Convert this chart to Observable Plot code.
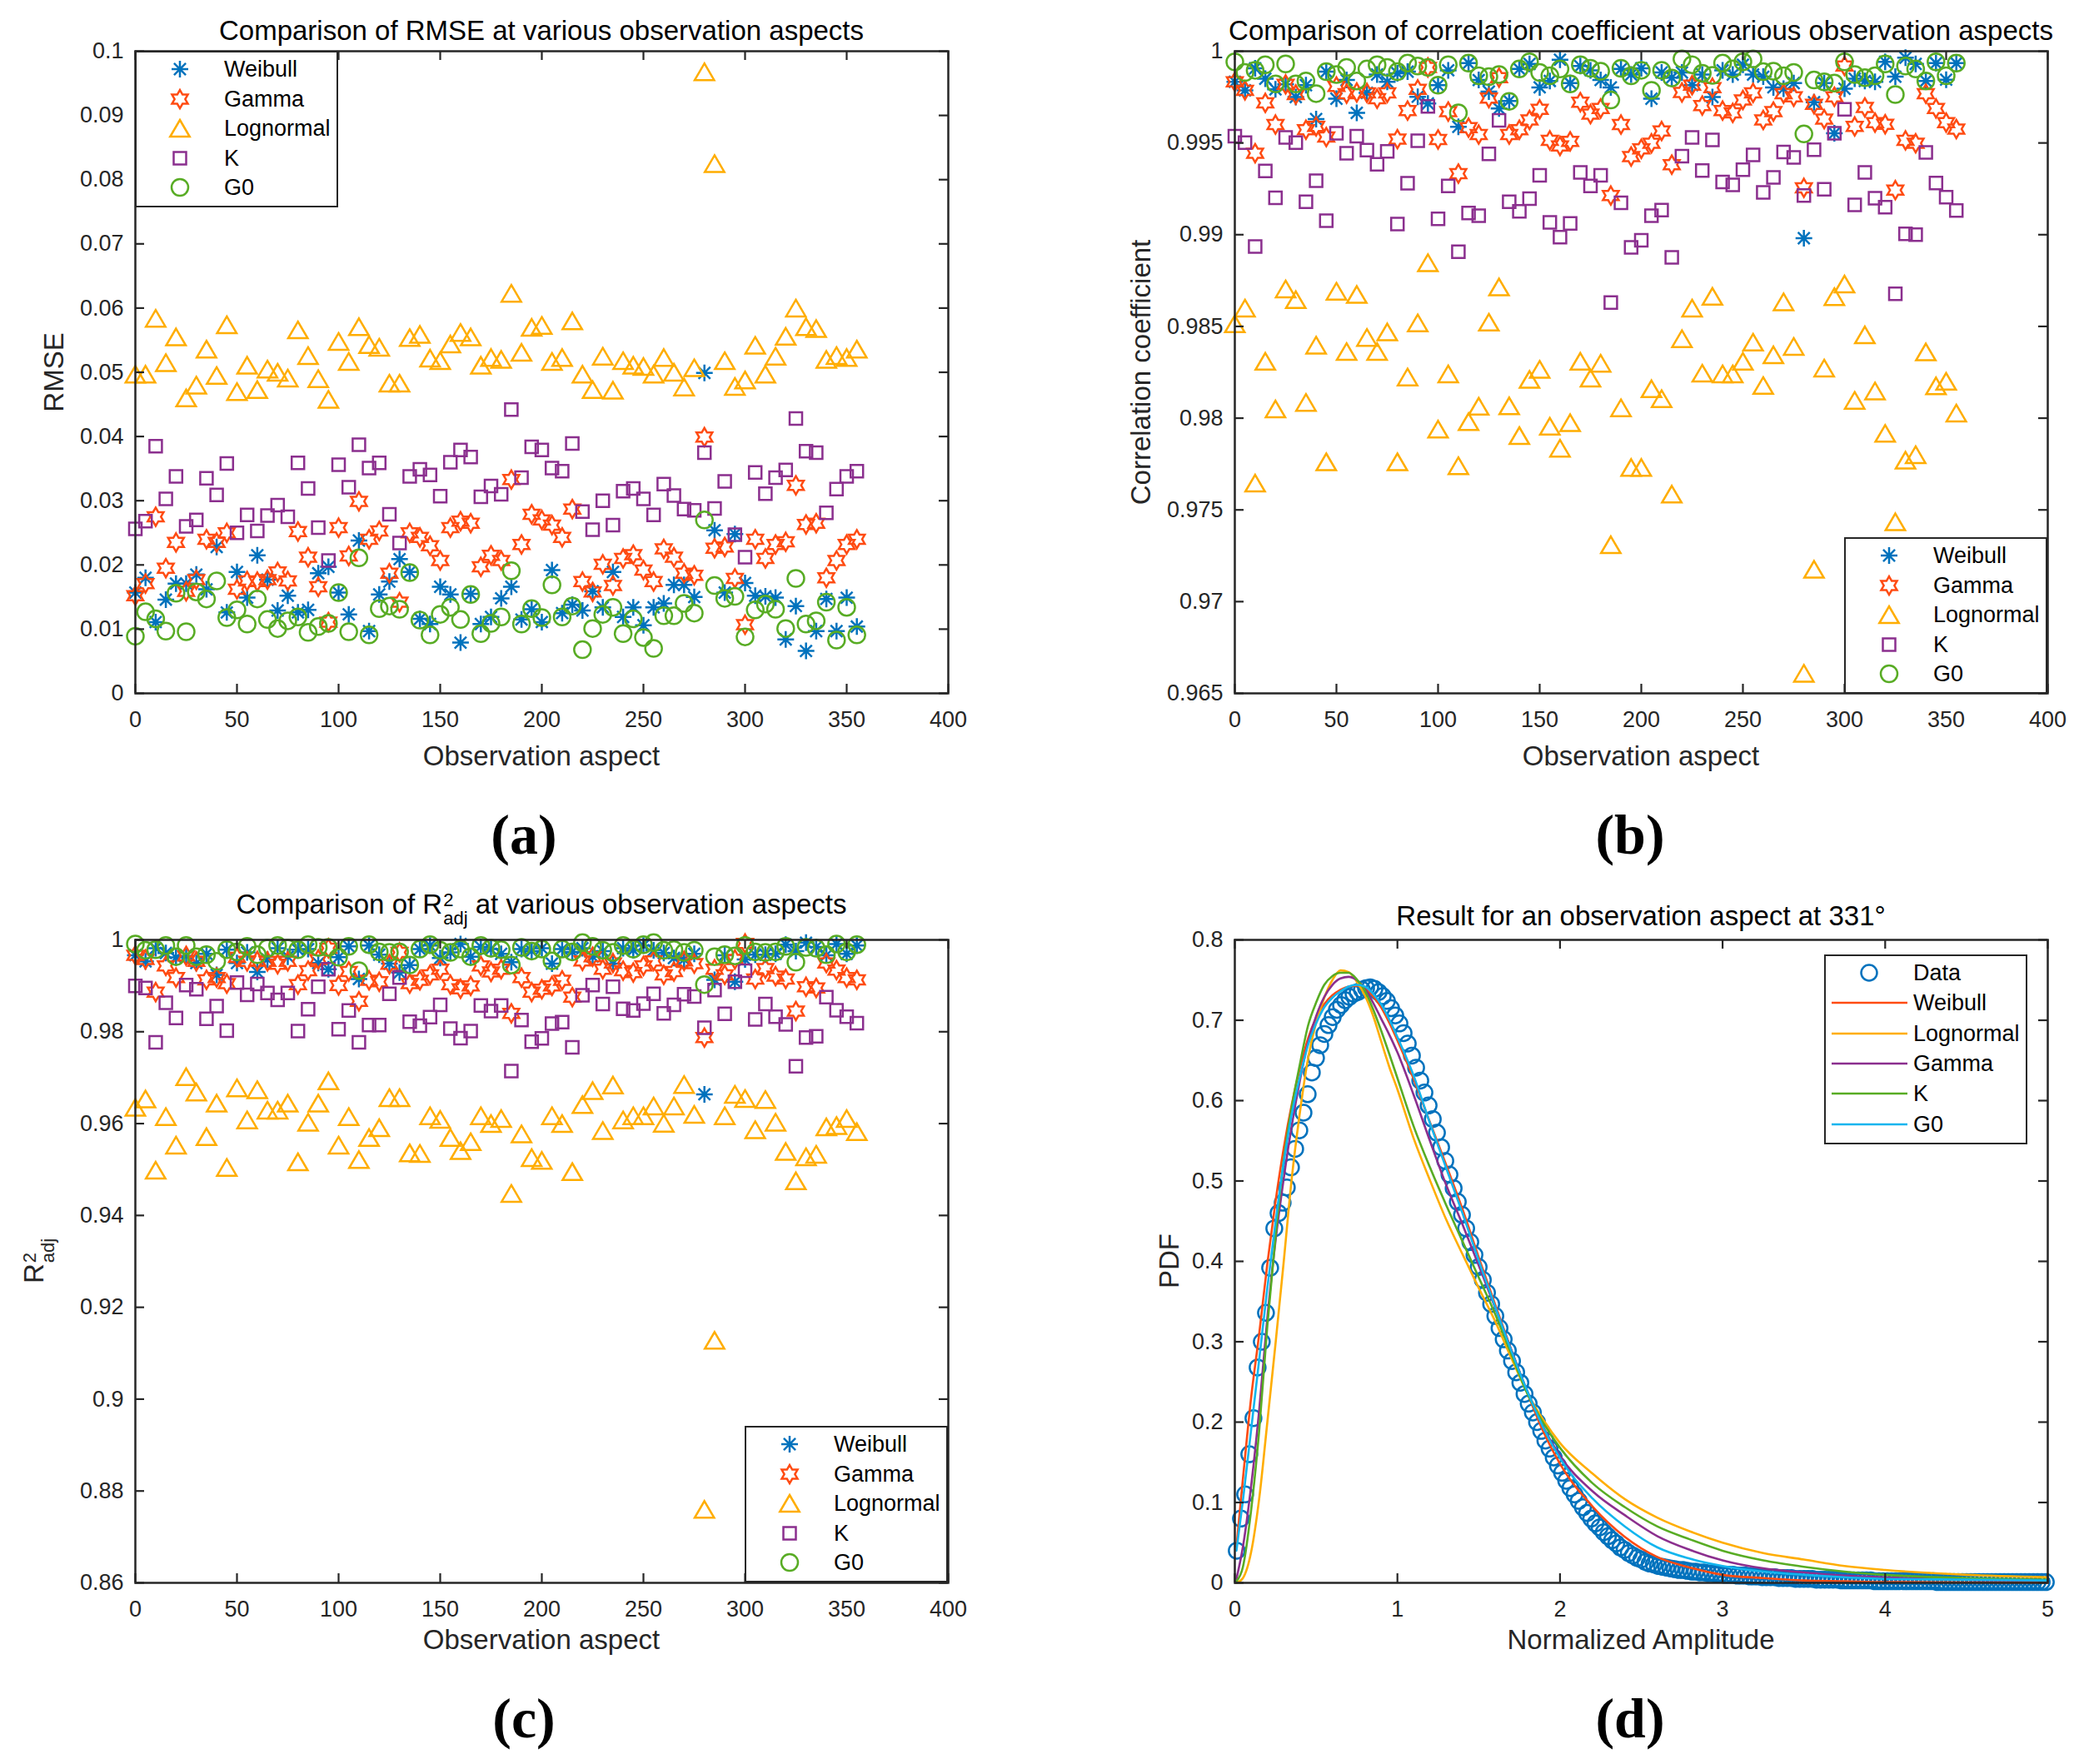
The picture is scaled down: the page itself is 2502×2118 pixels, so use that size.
<!DOCTYPE html>
<html><head><meta charset="utf-8">
<script src="https://cdn.jsdelivr.net/npm/d3@7"></script>
<script src="https://cdn.jsdelivr.net/npm/@observablehq/plot@0.6"></script>
<style>
body{margin:0;background:#fff;}
#page{position:relative;width:2502px;height:2118px;background:#fff;font-family:"Liberation Sans",Arial,Helvetica,sans-serif;overflow:hidden;}
.panel{position:absolute;}
.txt{position:absolute;white-space:nowrap;transform:translate(-50%,-50%);color:#000;line-height:1;}
.title{font-size:33px;}
.axlab{font-size:33px;color:#262626;}
.ylab{transform:translate(-50%,-50%) rotate(-90deg);}
.tag{font-family:"Liberation Serif","Times New Roman",serif;font-weight:bold;font-size:68px;}
.supsub{display:inline-block;vertical-align:-13px;font-size:22px;line-height:1;text-align:left;margin-left:1px;}
.supsub span{display:block;}
.legend{position:absolute;background:#fff;border:2.5px solid #262626;box-sizing:border-box;}
.legend svg{position:absolute;overflow:visible;}
.legend span{position:absolute;font-size:27px;line-height:1;transform:translateY(-50%);white-space:nowrap;color:#000;}
</style></head><body><div id="page"></div>
<script>
// ---------------- data ----------------
const aspects = [0,5,10,15,20,25,30,35,40,45,50,55,60,65,70,75,80,85,90,95,100,105,110,115,120,125,130,135,140,145,150,155,160,165,170,175,180,185,190,195,200,205,210,215,220,225,230,235,240,245,250,255,260,265,270,275,280,285,290,295,300,305,310,315,320,325,330,335,340,345,350,355];
const seriesNames = ["Weibull","Gamma","Lognormal","K","G0"];

// (a) RMSE
const rmseWeibull = [0.0157,0.018,0.0111,0.0146,0.0171,0.0171,0.0185,0.0162,0.0228,0.0126,0.0189,0.0149,0.0215,0.0177,0.0129,0.0152,0.0126,0.013,0.0187,0.0197,0.0157,0.0123,0.0238,0.0097,0.0154,0.0174,0.0209,0.0189,0.0116,0.0108,0.0166,0.0154,0.0079,0.0155,0.0108,0.0119,0.0148,0.0166,0.0115,0.0131,0.0111,0.0192,0.0125,0.0138,0.0129,0.0159,0.0134,0.0189,0.0119,0.0134,0.0106,0.0134,0.014,0.0169,0.0169,0.015,0.0499,0.0254,0.0157,0.0248,0.0172,0.0152,0.0151,0.0149,0.0084,0.0136,0.0066,0.0097,0.0147,0.0097,0.0149,0.0104];
const rmseGamma = [0.0152,0.0171,0.0275,0.0195,0.0235,0.0159,0.0177,0.024,0.0235,0.025,0.0162,0.0175,0.0174,0.0177,0.0189,0.0175,0.0252,0.0212,0.0166,0.0111,0.0258,0.0214,0.0299,0.024,0.0253,0.0187,0.0142,0.025,0.0243,0.023,0.0207,0.0258,0.0268,0.0265,0.0197,0.0215,0.0207,0.0333,0.0232,0.0279,0.027,0.0262,0.0243,0.0287,0.0174,0.0158,0.0201,0.0168,0.021,0.0216,0.0192,0.0174,0.0225,0.0212,0.0187,0.0184,0.0399,0.0226,0.0228,0.0179,0.0107,0.024,0.021,0.0232,0.0236,0.0324,0.0263,0.0265,0.018,0.0207,0.0232,0.024];
const rmseLognormal = [0.0497,0.0497,0.0584,0.0515,0.0555,0.046,0.048,0.0536,0.0495,0.0574,0.047,0.0511,0.0473,0.0505,0.05,0.0491,0.0566,0.0526,0.049,0.0458,0.0548,0.0517,0.0571,0.0543,0.0539,0.0483,0.0483,0.0554,0.0559,0.0522,0.0518,0.0544,0.0562,0.0555,0.0511,0.0523,0.052,0.0623,0.0531,0.057,0.0573,0.0517,0.0523,0.058,0.0497,0.0473,0.0525,0.0472,0.0518,0.0511,0.0509,0.0497,0.0523,0.05,0.0477,0.0507,0.0968,0.0825,0.0518,0.0478,0.0488,0.0542,0.0497,0.0525,0.0556,0.06,0.0571,0.0568,0.052,0.0526,0.0523,0.0536];
const rmseK = [0.0256,0.0268,0.0385,0.0303,0.0338,0.026,0.027,0.0335,0.0309,0.0358,0.025,0.0278,0.0253,0.0277,0.0293,0.0275,0.0359,0.0319,0.0258,0.0207,0.0356,0.0321,0.0387,0.0351,0.0359,0.0279,0.0234,0.0338,0.0349,0.034,0.0307,0.036,0.0379,0.0368,0.0306,0.0323,0.031,0.0442,0.0336,0.0384,0.0379,0.0351,0.0346,0.0389,0.0283,0.0255,0.03,0.0262,0.0315,0.0319,0.0303,0.0278,0.0326,0.0308,0.0287,0.0285,0.0375,0.0288,0.033,0.0247,0.0212,0.0344,0.0311,0.0336,0.0348,0.0428,0.0377,0.0375,0.0281,0.0318,0.0338,0.0346];
const rmseG0 = [0.0089,0.0127,0.0116,0.0097,0.0156,0.0096,0.0158,0.0147,0.0175,0.0118,0.013,0.0108,0.0147,0.0115,0.0101,0.0113,0.0119,0.0095,0.0104,0.0109,0.0157,0.0096,0.0211,0.0091,0.0132,0.0136,0.0131,0.0188,0.0114,0.0091,0.0123,0.0134,0.0115,0.0154,0.0093,0.0109,0.0119,0.0191,0.0108,0.0132,0.0118,0.0169,0.0119,0.0136,0.0068,0.0101,0.0123,0.0134,0.0093,0.0116,0.0087,0.007,0.0121,0.0121,0.014,0.0125,0.027,0.0168,0.0148,0.0151,0.0088,0.013,0.0139,0.0131,0.0101,0.0179,0.0108,0.0113,0.0142,0.0083,0.0134,0.0091];

// (b) correlation coefficient
const corrWeibull = [0.99833,0.99787,0.99907,0.9985,0.99792,0.99819,0.9975,0.99815,0.9963,0.99889,0.99741,0.99843,0.99664,0.99773,0.99873,0.99833,0.9988,0.99889,0.99752,0.99715,0.99815,0.99896,0.99588,0.99935,0.99843,0.9978,0.99688,0.99729,0.99903,0.99931,0.99803,0.99838,0.99954,0.99826,0.99919,0.99896,0.99843,0.99803,0.99903,0.99873,0.99907,0.99741,0.99884,0.99856,0.99884,0.99815,0.99873,0.9975,0.99896,0.99873,0.99926,0.99873,0.99861,0.99803,0.99796,0.99826,0.98981,0.99722,0.99826,0.99553,0.99796,0.9985,0.99838,0.99833,0.99942,0.99861,0.99965,0.99931,0.99838,0.99935,0.99845,0.99935];
const corrGamma = [0.99833,0.99787,0.99444,0.99718,0.996,0.99819,0.99764,0.99572,0.9959,0.99532,0.99808,0.99769,0.99775,0.99773,0.99741,0.99773,0.99521,0.99676,0.99792,0.99912,0.99519,0.99671,0.99333,0.99583,0.99546,0.99745,0.99856,0.99546,0.99572,0.99625,0.99683,0.99514,0.99484,0.99509,0.99722,0.99657,0.99688,0.99213,0.996,0.99426,0.99468,0.99498,0.99565,0.99382,0.99775,0.99815,0.99704,0.99801,0.99676,0.99664,0.99734,0.99773,0.99625,0.99671,0.99769,0.99752,0.99255,0.99711,0.9963,0.99752,0.99919,0.9959,0.99694,0.99611,0.99602,0.99243,0.99514,0.99498,0.99769,0.99688,0.99611,0.99576];
const corrLognormal = [0.98514,0.986,0.97646,0.9831,0.9805,0.98704,0.98646,0.98086,0.98398,0.97762,0.98692,0.98363,0.98674,0.9844,0.98363,0.9847,0.97762,0.98224,0.98519,0.98847,0.9794,0.98241,0.97741,0.97981,0.98065,0.98523,0.98715,0.98067,0.97905,0.98211,0.98266,0.97956,0.97836,0.97975,0.9831,0.98218,0.98299,0.9731,0.98056,0.97731,0.97731,0.9816,0.98106,0.97586,0.98433,0.986,0.98245,0.98664,0.98241,0.98241,0.9831,0.98414,0.98178,0.98345,0.98634,0.98391,0.96609,0.97176,0.98273,0.98662,0.98731,0.98097,0.98454,0.98148,0.97917,0.97435,0.97771,0.97801,0.98361,0.98176,0.98201,0.98028];
const corrK = [0.99537,0.99502,0.98935,0.99347,0.99201,0.9953,0.99502,0.9918,0.99294,0.99076,0.99553,0.99444,0.99537,0.99461,0.99384,0.99454,0.99058,0.9928,0.99512,0.99699,0.99086,0.99266,0.98907,0.99118,0.99104,0.9944,0.99623,0.9918,0.99127,0.99197,0.99324,0.99067,0.98986,0.99062,0.9934,0.99266,0.99324,0.9863,0.99174,0.98931,0.9897,0.99104,0.99134,0.98877,0.99428,0.9953,0.9935,0.99516,0.99287,0.99271,0.99354,0.99435,0.99231,0.99312,0.99451,0.99421,0.99213,0.99463,0.99248,0.99553,0.99683,0.99162,0.9934,0.99199,0.9915,0.98678,0.99005,0.99,0.99449,0.99282,0.99204,0.99132];
const corrG0 = [0.99942,0.99884,0.99896,0.99926,0.99822,0.99931,0.99822,0.99838,0.99769,0.99889,0.99873,0.99912,0.99838,0.99903,0.99926,0.99912,0.99889,0.99935,0.99919,0.99912,0.99815,0.99926,0.99664,0.99935,0.99866,0.99861,0.99873,0.99727,0.99903,0.99942,0.99884,0.99866,0.99903,0.99822,0.99926,0.99907,0.99891,0.99734,0.99907,0.99866,0.99896,0.99787,0.99896,0.99854,0.99958,0.99926,0.9988,0.99868,0.99935,0.99903,0.99942,0.99958,0.99889,0.99891,0.99866,0.99884,0.99549,0.99843,0.99833,0.99826,0.99942,0.99873,0.99856,0.99866,0.99931,0.99764,0.99919,0.99903,0.99838,0.99942,0.99866,0.99935];

// (c) adjusted R^2
const r2Weibull = [0.99666,0.99532,0.99818,0.99714,0.99617,0.99653,0.99495,0.99696,0.9924,0.99787,0.99495,0.99726,0.99301,0.99574,0.99818,0.99635,0.99787,0.99799,0.99495,0.99362,0.99623,0.9986,0.99149,0.99878,0.99678,0.99483,0.99289,0.99453,0.99799,0.99878,0.99605,0.99726,0.99909,0.99635,0.99848,0.99799,0.99696,0.99514,0.99799,0.99757,0.99818,0.99483,0.99799,0.99739,0.99818,0.99635,0.99757,0.99483,0.99818,0.99775,0.99878,0.99775,0.99714,0.99605,0.99574,0.99696,0.96638,0.99131,0.99666,0.99088,0.99574,0.99678,0.99678,0.99696,0.99897,0.99757,0.99939,0.99848,0.99666,0.99909,0.99696,0.99878];
const r2Gamma = [0.99666,0.99574,0.98863,0.99435,0.99179,0.99653,0.99532,0.99131,0.99179,0.99046,0.99617,0.99532,0.99544,0.99532,0.99471,0.99532,0.99027,0.99331,0.99574,0.99818,0.99009,0.99313,0.98663,0.99119,0.99088,0.99471,0.99726,0.99046,0.99119,0.9924,0.99362,0.99027,0.98936,0.98997,0.99435,0.99301,0.99362,0.98401,0.99179,0.98863,0.98924,0.98997,0.99119,0.98754,0.99544,0.99635,0.99362,0.99495,0.99331,0.99289,0.99435,0.99544,0.9924,0.99313,0.99544,0.99483,0.97872,0.99362,0.9924,0.99574,0.99921,0.99149,0.99374,0.9921,0.99149,0.9845,0.98979,0.98954,0.99495,0.99343,0.99179,0.99131];
const r2Lognormal = [0.96353,0.96535,0.94985,0.96152,0.95532,0.97021,0.96687,0.95714,0.96444,0.95046,0.96778,0.96079,0.96736,0.96292,0.96292,0.96444,0.95167,0.9603,0.96444,0.9693,0.95532,0.96152,0.95216,0.95696,0.95909,0.96565,0.96565,0.95362,0.9535,0.9617,0.96091,0.95696,0.9541,0.95605,0.9617,0.96,0.96109,0.9448,0.95775,0.95258,0.95198,0.9617,0.96,0.94954,0.96413,0.96717,0.95848,0.96839,0.96079,0.9617,0.9617,0.96383,0.96006,0.96383,0.96851,0.962,0.876,0.9128,0.9617,0.96638,0.96547,0.95866,0.96523,0.9603,0.95392,0.94754,0.95277,0.95331,0.95927,0.95957,0.96109,0.95824];
const r2K = [0.98997,0.98954,0.97769,0.98632,0.98298,0.99015,0.98924,0.9828,0.98559,0.98024,0.9907,0.98802,0.9904,0.98845,0.98693,0.98845,0.98012,0.98492,0.98979,0.99362,0.98055,0.98462,0.97769,0.98146,0.98146,0.98827,0.99179,0.98219,0.98134,0.98316,0.98584,0.98067,0.9786,0.98012,0.98571,0.9845,0.98571,0.97143,0.98255,0.97781,0.97854,0.98176,0.98207,0.9766,0.98796,0.99015,0.98602,0.98979,0.98498,0.98462,0.98614,0.98827,0.98401,0.98584,0.98815,0.98766,0.98085,0.98906,0.98389,0.99088,0.99331,0.98267,0.98602,0.98328,0.98158,0.97246,0.97872,0.97903,0.98754,0.98468,0.98328,0.98188];
const r2G0 = [0.99909,0.99775,0.99787,0.99878,0.99635,0.99878,0.99635,0.99678,0.99532,0.99787,0.99739,0.9986,0.99678,0.99818,0.99878,0.99818,0.99787,0.99897,0.99836,0.99836,0.99623,0.9986,0.99331,0.99897,0.99739,0.99726,0.99739,0.99453,0.99799,0.99897,0.99775,0.99726,0.99799,0.99635,0.99878,0.99818,0.99787,0.99453,0.99836,0.99757,0.99799,0.99544,0.99799,0.99739,0.99939,0.9986,0.99775,0.99726,0.99878,0.99799,0.99897,0.99939,0.99775,0.99787,0.99726,0.99775,0.99027,0.99635,0.99678,0.99653,0.99878,0.99739,0.99726,0.99739,0.9986,0.99514,0.99836,0.99818,0.99678,0.99909,0.99739,0.99897];

// (d) PDF at 331 deg: measured histogram (regular amplitude grid) and fitted curves
const pdfStart = 0.012, pdfStep = 0.02565;
const pdfData = [0.040,0.080,0.110,0.160,0.205,0.268,0.300,0.336,0.392,0.441,0.460,0.473,0.492,0.517,0.540,0.563,0.585,0.608,0.635,
0.653,0.669,0.683,0.694,0.704,0.713,0.719,0.725,0.729,0.733,0.735,0.738,0.740,0.741,0.739,0.735,0.730,0.724,0.715,0.706,0.696,0.684,0.671,0.656,0.641,0.625,0.610,0.594,0.577,0.560,0.542,0.525,0.508,0.491,0.474,0.458,0.441,0.424,0.408,0.393,0.377,0.361,0.347,0.332,0.317,0.303,0.289,0.276,0.262,0.249,0.235,0.223,0.212,0.200,0.189,0.177,0.167,0.156,0.146,0.137,0.127,0.118,0.110,0.102,0.094,0.087,0.080,0.074,0.069,0.063,0.058,0.053,0.049,0.044,0.041,0.037,0.034,0.031,0.029,0.026,0.024,0.023,
0.021,0.020,0.019,0.018,0.017,0.016,0.016,0.015,0.014,0.014,0.013,0.013,0.012,0.012,0.011,0.011,
0.010,0.010,0.010,0.009,0.009,0.009,0.008,0.008,0.008,0.007,0.007,0.007,0.007,0.006,0.006,0.006,0.006,0.005,0.005,
0.005,0.005,0.005,0.004,0.004,0.004,0.004,0.004,0.004,0.003,0.003,0.003,0.003,0.003,0.003,0.003,0.003,0.002,0.002,0.002,
0.002,0.002,0.002,0.002,0.002,0.002,0.002,0.002,0.002,0.002,0.002,0.002,0.001,0.001,0.001,0.001,0.001,0.001,0.001,0.001,
0.001,0.001,0.001,0.001,0.001,0.001,0.001,0.001,0.001,0.001,0.001,0.001,0.001,0.001,0.001,0.001,0.001,0.001,0.001];
const fitX = [0.01,0.05,0.1,0.15,0.2,0.25,0.3,0.35,0.4,0.45,0.5,0.55,0.6,0.65,0.7,0.75,0.8,0.85,0.9,0.95,1.0,1.1,1.2,1.3,1.4,1.5,1.6,1.7,1.8,1.9,2.0,2.2,2.4,2.6,2.8,3.0,3.25,3.5,3.75,4.0,4.5,5.0];
const fitWeibull = [0.045,0.13,0.23,0.31,0.397,0.474,0.54,0.595,0.64,0.677,0.703,0.72,0.731,0.738,0.742,0.743,0.74,0.73,0.716,0.697,0.675,0.627,0.573,0.52,0.465,0.405,0.347,0.29,0.236,0.187,0.148,0.095,0.057,0.032,0.019,0.01,0.006,0.003,0.002,0.001,0.0005,0.0002];
const fitLognormal = [0.0,0.006,0.038,0.105,0.2,0.297,0.398,0.503,0.585,0.652,0.697,0.728,0.75,0.762,0.76,0.748,0.731,0.706,0.674,0.642,0.614,0.553,0.501,0.452,0.409,0.367,0.326,0.28,0.236,0.202,0.174,0.136,0.104,0.081,0.064,0.05,0.037,0.029,0.021,0.016,0.01,0.007];
const fitGamma = [0.005,0.045,0.12,0.215,0.33,0.425,0.502,0.569,0.625,0.672,0.705,0.729,0.744,0.752,0.754,0.75,0.739,0.722,0.702,0.682,0.66,0.607,0.55,0.495,0.446,0.395,0.343,0.29,0.238,0.193,0.158,0.114,0.084,0.058,0.041,0.028,0.018,0.013,0.009,0.007,0.004,0.003];
const fitK = [0.002,0.02,0.09,0.19,0.32,0.43,0.525,0.592,0.645,0.693,0.722,0.744,0.755,0.759,0.759,0.751,0.737,0.714,0.687,0.658,0.628,0.568,0.517,0.47,0.425,0.38,0.335,0.285,0.235,0.198,0.168,0.124,0.094,0.07,0.054,0.04,0.028,0.02,0.014,0.01,0.006,0.004];
const fitG0 = [0.04,0.103,0.19,0.278,0.367,0.448,0.522,0.583,0.629,0.669,0.696,0.716,0.728,0.736,0.742,0.744,0.742,0.733,0.72,0.701,0.679,0.631,0.572,0.516,0.46,0.401,0.344,0.289,0.238,0.192,0.155,0.105,0.07,0.044,0.03,0.021,0.014,0.01,0.007,0.005,0.004,0.003];

// ticks
const aspectTicks = [0,50,100,150,200,250,300,350,400];
const aspectTickLabels = ["0","50","100","150","200","250","300","350","400"];
const rmseTicks = [0,0.01,0.02,0.03,0.04,0.05,0.06,0.07,0.08,0.09,0.1];
const rmseTickLabels = ["0","0.01","0.02","0.03","0.04","0.05","0.06","0.07","0.08","0.09","0.1"];
const corrTicks = [0.965,0.97,0.975,0.98,0.985,0.99,0.995,1];
const corrTickLabels = ["0.965","0.97","0.975","0.98","0.985","0.99","0.995","1"];
const r2Ticks = [0.86,0.88,0.9,0.92,0.94,0.96,0.98,1];
const r2TickLabels = ["0.86","0.88","0.9","0.92","0.94","0.96","0.98","1"];
const ampTicks = [0,1,2,3,4,5];
const ampTickLabels = ["0","1","2","3","4","5"];
const pdfTicks = [0,0.1,0.2,0.3,0.4,0.5,0.6,0.7,0.8];
const pdfTickLabels = ["0","0.1","0.2","0.3","0.4","0.5","0.6","0.7","0.8"];

// ---------------- styling ----------------
const colors = {Weibull:"#0072BD", Gamma:"#FF4B12", Lognormal:"#FFAD00", K:"#8B2F8E", G0:"#58AC24"};
const lineColors = {Weibull:"#FF4B12", Lognormal:"#FFAD00", Gamma:"#8B2F8E", K:"#58AC24", G0:"#12B5EE"};
const dataColor = "#0072BD";
const ink = "#262626";
const FONT = '"Liberation Sans", Arial, Helvetica, sans-serif';

const asterisk = {draw(c, s){const r=Math.sqrt(s/Math.PI), d=r*Math.SQRT1_2;
  c.moveTo(-r,0);c.lineTo(r,0);c.moveTo(0,-r);c.lineTo(0,r);
  c.moveTo(-d,-d);c.lineTo(d,d);c.moveTo(-d,d);c.lineTo(d,-d);}};
const hexagram = {draw(c, s){const R=Math.sqrt(s/Math.PI), ri=R/Math.sqrt(3);
  for(let k=0;k<12;k++){const a=-Math.PI/2+k*Math.PI/6, rr=k%2?ri:R, x=rr*Math.cos(a), y=rr*Math.sin(a); if(k) c.lineTo(x,y); else c.moveTo(x,y);} c.closePath();}};
const triangle = {draw(c, s){const r=Math.sqrt(s/Math.PI); c.moveTo(0,-r); c.lineTo(1.17*r,r); c.lineTo(-1.17*r,r); c.closePath();}};
const square = {draw(c, s){const r=Math.sqrt(s/Math.PI); c.rect(-r,-r,2*r,2*r);}};
const circle = {draw(c, s){const r=Math.sqrt(s/Math.PI); c.moveTo(r,0); c.arc(0,0,r,0,2*Math.PI);}};
const markers = {Weibull:{symbol:asterisk,r:10}, Gamma:{symbol:hexagram,r:11}, Lognormal:{symbol:triangle,r:10}, K:{symbol:square,r:7.5}, G0:{symbol:circle,r:10}};

const page = document.getElementById("page");
const W = 1251, H = 1059;

function frameMarks(xTicks, xLabels, yTicks, yLabels, fw, fh) {
  const xm = new Map(xTicks.map((t,i)=>[t,xLabels[i]]));
  const ym = new Map(yTicks.map((t,i)=>[t,yLabels[i]]));
  return [
    Plot.tickX(xTicks, {x: d=>d, stroke: ink, strokeWidth: 2.2, insetTop: fh-11}),
    Plot.tickX(xTicks, {x: d=>d, stroke: ink, strokeWidth: 2.2, insetBottom: fh-11}),
    Plot.tickY(yTicks, {y: d=>d, stroke: ink, strokeWidth: 2.2, insetRight: fw-11}),
    Plot.tickY(yTicks, {y: d=>d, stroke: ink, strokeWidth: 2.2, insetLeft: fw-11}),
    Plot.axisX(xTicks, {tickSize: 0, tickPadding: 21, tickFormat: d=>xm.get(d), label: null, fontSize: 27}),
    Plot.axisY(yTicks, {tickSize: 0, tickPadding: 14, tickFormat: d=>ym.get(d), label: null, fontSize: 27}),
    Plot.frame({stroke: ink, strokeWidth: 2.5})
  ];
}

function addPlot(left, top, m, xDomain, yDomain, marks) {
  const div = document.createElement("div");
  div.className = "panel";
  div.style.left = left + "px"; div.style.top = top + "px";
  const svg = Plot.plot({
    width: W, height: H,
    marginLeft: m[0], marginRight: m[1], marginTop: m[2], marginBottom: m[3],
    x: {domain: xDomain}, y: {domain: yDomain},
    style: {fontFamily: FONT, fontSize: "27px", color: ink, background: "transparent"},
    marks
  });
  div.appendChild(svg);
  page.appendChild(div);
}

function scatter(left, top, m, yDomain, yTicks, yLabels, valuesByName) {
  const fw = W - m[0] - m[1], fh = H - m[2] - m[3];
  const marks = [];
  for (const name of seriesNames) {
    const vals = valuesByName[name];
    const rows = aspects.map((a,i)=>({aspect:a, value:vals[i]}));
    marks.push(Plot.dot(rows, {x:"aspect", y:"value", symbol: markers[name].symbol, r: markers[name].r, stroke: colors[name], fill: "none", strokeWidth: 2.5}));
  }
  addPlot(left, top, m, [0,400], yDomain, [...marks, ...frameMarks(aspectTicks, aspectTickLabels, yTicks, yLabels, fw, fh)]);
}

// margins: [left, right, top, bottom]
const mA = [162,113,61,227], mB = [231,44,61,227], mC = [162,113,69,218], mD = [231,44,69,218];
scatter(0, 0, mA, [0,0.1], rmseTicks, rmseTickLabels,
  {Weibull: rmseWeibull, Gamma: rmseGamma, Lognormal: rmseLognormal, K: rmseK, G0: rmseG0});
scatter(1251, 0, mB, [0.965,1], corrTicks, corrTickLabels,
  {Weibull: corrWeibull, Gamma: corrGamma, Lognormal: corrLognormal, K: corrK, G0: corrG0});
scatter(0, 1059, mC, [0.86,1], r2Ticks, r2TickLabels,
  {Weibull: r2Weibull, Gamma: r2Gamma, Lognormal: r2Lognormal, K: r2K, G0: r2G0});

// panel d
{
  const m = mD;
  const fw = W - m[0] - m[1], fh = H - m[2] - m[3];
  const dataRows = pdfData.map((v,i)=>({amp: pdfStart + i*pdfStep, pdf: v}));
  const fits = {Weibull: fitWeibull, Lognormal: fitLognormal, Gamma: fitGamma, K: fitK, G0: fitG0};
  const marks = [Plot.dot(dataRows, {x:"amp", y:"pdf", symbol: circle, r: 9.5, stroke: dataColor, fill:"none", strokeWidth: 2.5})];
  for (const name of ["Weibull","Lognormal","Gamma","K","G0"]) {
    const rows = fitX.map((x,i)=>({amp:x, pdf:fits[name][i]}));
    marks.push(Plot.line(rows, {x:"amp", y:"pdf", stroke: lineColors[name], strokeWidth: 2.6, curve: "monotone-x"}));
  }
  addPlot(1251, 1059, m, [0,5], [0,0.8], [...marks, ...frameMarks(ampTicks, ampTickLabels, pdfTicks, pdfTickLabels, fw, fh)]);
}

// ---------------- text ----------------
function addText(html, x, y, cls) {
  const d = document.createElement("div");
  d.className = "txt " + cls;
  d.style.left = x + "px"; d.style.top = y + "px";
  d.innerHTML = html;
  page.appendChild(d);
}
const r2html = 'R<span class="supsub"><span>2</span><span>adj</span></span>';
addText("Comparison of RMSE at various observation aspects", 650, 36, "title");
addText("Comparison of correlation coefficient at various observation aspects", 1970, 36, "title");
addText("Comparison of " + r2html + " at various observation aspects", 650, 1091, "title");
addText("Result for an observation aspect at 331°", 1970, 1099, "title");
addText("Observation aspect", 650, 907, "axlab");
addText("Observation aspect", 1970, 907, "axlab");
addText("Observation aspect", 650, 1968, "axlab");
addText("Normalized Amplitude", 1970, 1968, "axlab");
addText("RMSE", 64, 446.5, "axlab ylab");
addText("Correlation coefficient", 1369, 446.5, "axlab ylab");
addText(r2html, 46, 1514, "axlab ylab");
addText("PDF", 1403, 1514, "axlab ylab");
addText("(a)", 629, 1002, "tag");
addText("(b)", 1957, 1002, "tag");
addText("(c)", 629, 2063, "tag");
addText("(d)", 1957, 2063, "tag");

// ---------------- legends ----------------
function symbolPath(sym, r) { const p = d3.path(); sym.draw(p, r*r*Math.PI); return p.toString(); }
function legend(left, top, w, h, entries, spacing) {
  const box = document.createElement("div");
  box.className = "legend";
  Object.assign(box.style, {left: left+"px", top: top+"px", width: w+"px", height: h+"px"});
  entries.forEach((e,k) => {
    const cy = 20 + spacing*k;
    const ns = "http://www.w3.org/2000/svg";
    const svg = document.createElementNS(ns, "svg");
    if (e.kind === "line") {
      svg.setAttribute("width", 100); svg.setAttribute("height", 10);
      svg.style.left = "0px"; svg.style.top = (cy-5)+"px";
      const ln = document.createElementNS(ns, "line");
      ln.setAttribute("x1", 7); ln.setAttribute("x2", 98); ln.setAttribute("y1", 5); ln.setAttribute("y2", 5);
      ln.setAttribute("stroke", e.color); ln.setAttribute("stroke-width", 2.6);
      svg.appendChild(ln);
    } else {
      svg.setAttribute("width", 40); svg.setAttribute("height", 40);
      svg.style.left = (52-20)+"px"; svg.style.top = (cy-20)+"px";
      const path = document.createElementNS(ns, "path");
      path.setAttribute("d", symbolPath(e.symbol, e.r));
      path.setAttribute("transform", "translate(20,20)");
      path.setAttribute("fill", "none"); path.setAttribute("stroke", e.color); path.setAttribute("stroke-width", 2.5);
      svg.appendChild(path);
    }
    box.appendChild(svg);
    const sp = document.createElement("span");
    sp.textContent = e.label; sp.style.left = "105px"; sp.style.top = cy + "px";
    box.appendChild(sp);
  });
  page.appendChild(box);
}
const scatterEntries = seriesNames.map(n => ({label:n, symbol: markers[n].symbol, r: markers[n].r, color: colors[n]}));
legend(162, 61, 244, 188, scatterEntries, 35.5);
legend(2214, 645, 244, 188, scatterEntries, 35.5);
legend(894, 1712, 244, 188, scatterEntries, 35.5);
legend(2190, 1146, 244, 228, [
  {label:"Data", symbol: circle, r: 9.5, color: dataColor},
  ...["Weibull","Lognormal","Gamma","K","G0"].map(n => ({label:n, kind:"line", color: lineColors[n]}))
], 36.3);
</script></body></html>
